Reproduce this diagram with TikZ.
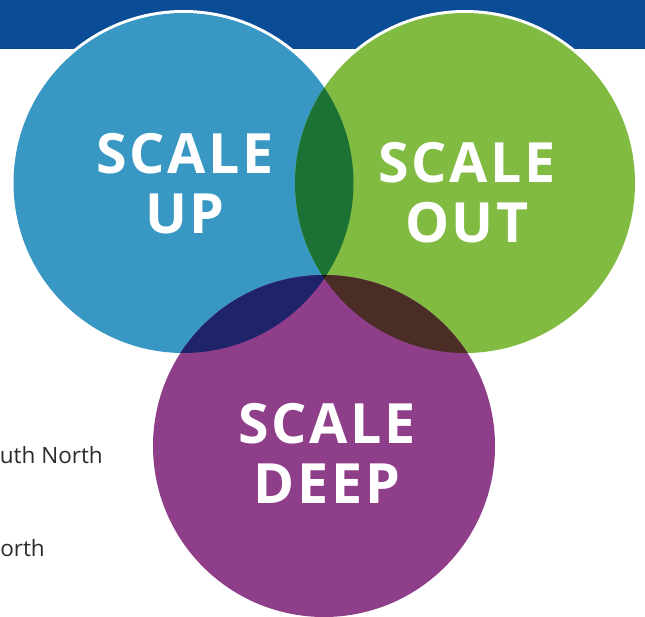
\documentclass[tikz,border=0pt]{standalone}
\usepackage{fontspec}
\setmainfont{Open Sans}
\newfontfamily\boldlabel[LetterSpace=5]{Open Sans Bold}
\definecolor{band}{HTML}{0A4C96}
\definecolor{cblue}{HTML}{3898C3}
\definecolor{cgreen}{HTML}{81BB41}
\definecolor{cpurple}{HTML}{8F3E8A}
\definecolor{bg}{HTML}{1C7234}
\definecolor{bp}{HTML}{1F236A}
\definecolor{gp}{HTML}{4A2D24}
\definecolor{bgp}{HTML}{141414}
\definecolor{sidetext}{HTML}{2B2B2B}
\tikzset{
  biglabel/.style={text=white,anchor=base,inner sep=0pt,font=\boldlabel\fontsize{55.5}{60}\selectfont},
  sidelabel/.style={text=sidetext,anchor=base east,inner sep=0pt,font=\fontsize{22.5}{26}\selectfont}
}
\begin{document}
\begin{tikzpicture}[x=1pt,y=-1pt]
\useasboundingbox (0,0) rectangle (645,617);
\fill[white] (0,0) rectangle (645,617);
\fill[band] (0,0) rectangle (645,49);
% side text
\node[sidelabel] (s1) at (103,463) {uth North};
\node[sidelabel] (s2) at (45,556) {orth};
% white rims
\fill[white] (183.5,183) circle (173);
\fill[white] (465,183) circle (173);
% circles
\fill[cblue] (183.5,183) circle (170);
\fill[cgreen] (465,183) circle (170);
\fill[cpurple] (324,446) circle (171);
% overlaps
\begin{scope}
  \clip (183.5,183) circle (170);
  \fill[bg] (465,183) circle (170);
  \fill[bp] (324,446) circle (171);
\end{scope}
\begin{scope}
  \clip (465,183) circle (170);
  \fill[gp] (324,446) circle (171);
  \clip (183.5,183) circle (170);
  \fill[bgp] (324,446) circle (171);
\end{scope}
% labels
\node[biglabel] (up1) at (185,174) {SCALE};
\node[biglabel] (up2) at (185,234) {UP};
\node[biglabel] (out1) at (467,183) {SCALE};
\node[biglabel] (out2) at (467,243) {OUT};
\node[biglabel] (deep1) at (327,443) {SCALE};
\node[biglabel] (deep2) at (327,503) {DEEP};
\end{tikzpicture}
\end{document}
